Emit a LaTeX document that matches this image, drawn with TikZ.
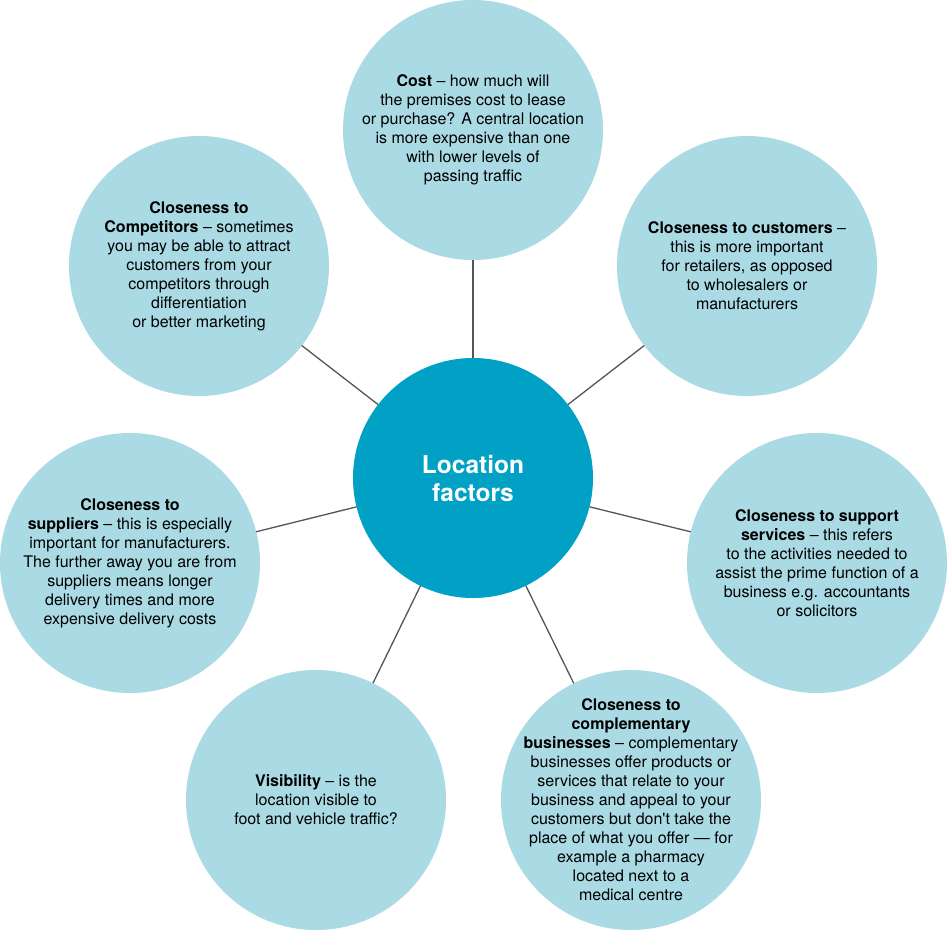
\documentclass[tikz,border=0pt]{standalone}
\usepackage{fontspec}
\setmainfont{TeX Gyre Heros}
\usetikzlibrary{positioning}

\definecolor{factorblue}{RGB}{170,218,228}
\definecolor{hubblue}{RGB}{0,161,196}
\definecolor{linkgrey}{RGB}{85,85,85}

\begin{document}
\begin{tikzpicture}[x=1pt,y=-1pt,align=center,
  factor/.style={circle,fill=factorblue,minimum size=260pt,inner sep=-40pt,outer sep=0pt,
                 font=\fontsize{16}{19}\selectfont},
  hub/.style={circle,fill=hubblue,minimum size=240pt,inner sep=0pt,outer sep=0pt,text=white,
              font=\fontsize{24.5}{28}\selectfont\bfseries},
  link/.style={draw=linkgrey,line width=1.3pt}]
\useasboundingbox (0,0) rectangle (947,930);

%% Centre
\node (Hub) [hub] at (473,478) {Location\\factors};

%% Factors round it
\node (Cost) [factor] at (473,130)
      {\textbf{Cost} -- how much will\\
       the premises cost to lease\\
       or purchase? A central location\\
       is more expensive than one\\
       with lower levels of\\
       passing traffic};

\node (Customers) [factor] at (747,266)
      {\textbf{Closeness to customers} --\\
       this is more important\\
       for retailers, as opposed\\
       to wholesalers or\\
       manufacturers};

\node (Support) [factor] at (817,563)
      {\textbf{Closeness to support}\\
       \textbf{services} -- this refers\\
       to the activities needed to\\
       assist the prime function of a\\
       business e.g. accountants\\
       or solicitors};

\node (Complementary) [factor] at (631,800)
      {\textbf{Closeness to}\\
       \textbf{complementary}\\
       \textbf{businesses} -- complementary\\
       businesses offer products or\\
       services that relate to your\\
       business and appeal to your\\
       customers but don\textquotesingle t take the\\
       place of what you offer --- for\\
       example a pharmacy\\
       located next to a\\
       medical centre};

\node (Visibility) [factor] at (316,800)
      {\textbf{Visibility} -- is the\\
       location visible to\\
       foot and vehicle traffic?};

\node (Suppliers) [factor] at (130,563)
      {\textbf{Closeness to}\\
       \textbf{suppliers} -- this is especially\\
       important for manufacturers.\\
       The further away you are from\\
       suppliers means longer\\
       delivery times and more\\
       expensive delivery costs};

\node (Competitors) [factor] at (199,266)
      {\textbf{Closeness to}\\
       \textbf{Competitors} -- sometimes\\
       you may be able to attract\\
       customers from your\\
       competitors through\\
       differentiation\\
       or better marketing};

%% Spokes
\foreach \f in {Cost,Customers,Support,Complementary,Visibility,Suppliers,Competitors}
  \draw[link] (Hub) -- (\f);
\end{tikzpicture}
\end{document}
